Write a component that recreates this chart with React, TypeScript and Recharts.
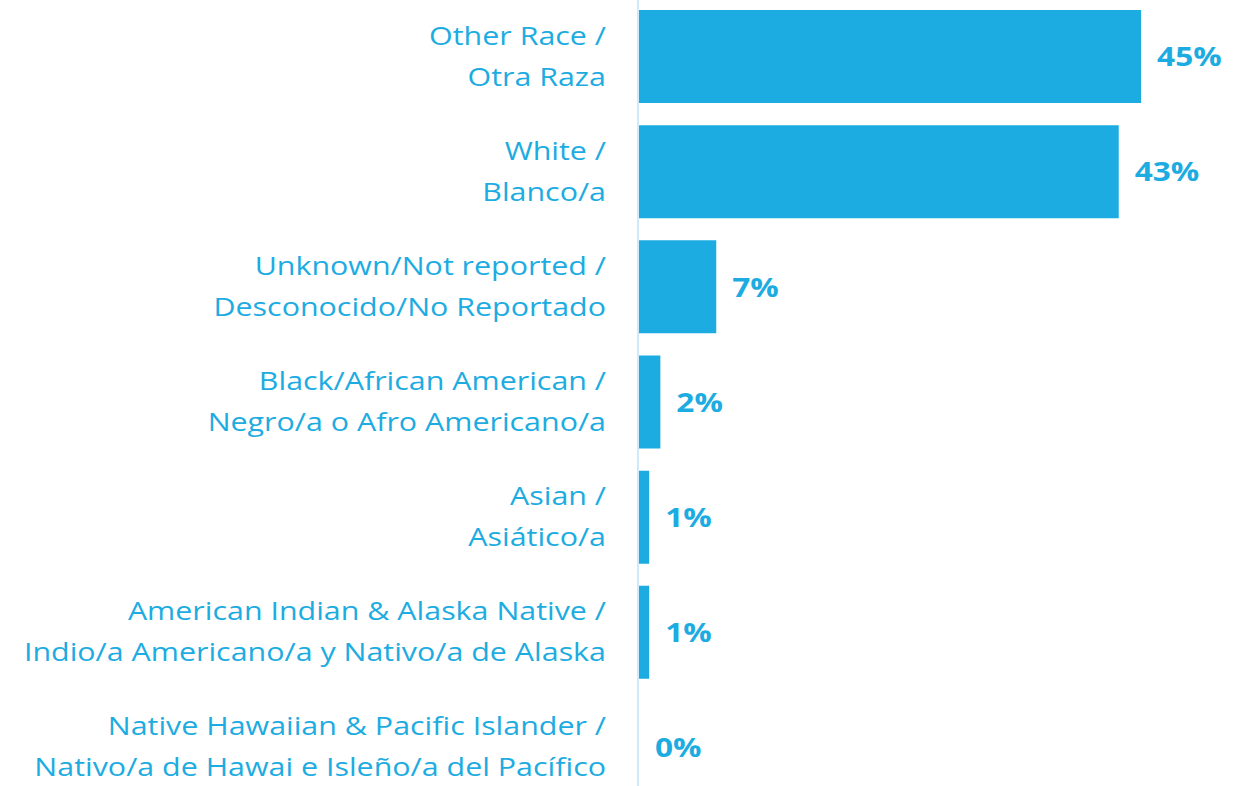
import { Bar, BarChart, Cell, LabelList, XAxis, YAxis } from "recharts";

const englishLabels = [
  "Other Race /",
  "White /",
  "Unknown/Not reported /",
  "Black/African American /",
  "Asian /",
  "American Indian & Alaska Native /",
  "Native Hawaiian & Pacific Islander /",
];
const spanishLabels = [
  "Otra Raza",
  "Blanco/a",
  "Desconocido/No Reportado",
  "Negro/a o Afro Americano/a",
  "Asiático/a",
  "Indio/a Americano/a y Nativo/a de Alaska",
  "Nativo/a de Hawai e Isleño/a del Pacífico",
];
const percents = [45, 43, 7, 2, 1, 1, 0];

const data = englishLabels.map((en, i) => ({ name: en, es: spanishLabels[i], value: percents[i] }));

const blue = "#1DACE1";
const font = "'Open Sans', sans-serif";
// the source image is stretched sideways a little
const stretch = 1.17;

function CategoryTick({ x, y, index }: any) {
  const row = data[index ?? 0];
  return (
    <text
      transform={`translate(${x},${y}) scale(${stretch},1)`}
      textAnchor="end"
      fill={blue}
      fontSize={26}
      fontFamily={font}
    >
      <tspan x={0} dy={-12}>{row.name}</tspan>
      <tspan x={0} dy={41}>{row.es}</tspan>
    </text>
  );
}

function ValueLabel({ x, y, width, height, value }: any) {
  const lx = x + width + 16;
  const ly = y + height / 2;
  return (
    <text
      transform={`translate(${lx},${ly}) scale(${stretch},1)`}
      dy="0.36em"
      fill={blue}
      fontSize={27}
      fontWeight={700}
      fontFamily={font}
    >
      {`${value}%`}
    </text>
  );
}

export default function App() {
  return (
    <div style={{ position: "absolute", left: 0, top: -1, background: "#fff" }}>
      <BarChart
        width={1237}
        height={806}
        data={data}
        layout="vertical"
        barCategoryGap="9.6%"
        margin={{ top: 0, right: 40, bottom: 0, left: 0 }}
      >
        <XAxis type="number" domain={[0, 50]} hide />
        <YAxis
          type="category"
          dataKey="name"
          width={638}
          axisLine={{ stroke: "#CFEAF8", strokeWidth: 2 }}
          tickLine={false}
          tickMargin={26}
          interval={0}
          tick={<CategoryTick />}
        />
        <Bar dataKey="value" fill={blue} minPointSize={1} isAnimationActive={false}>
          {data.map((d) => (
            <Cell key={d.name} fill={blue} fillOpacity={d.value === 0 ? 0 : 1} />
          ))}
          <LabelList dataKey="value" content={<ValueLabel />} />
        </Bar>
      </BarChart>
    </div>
  );
}
